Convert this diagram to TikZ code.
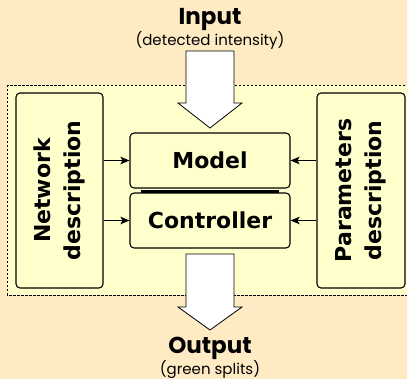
\documentclass[tikz,border=0pt]{standalone}
\usepackage{fontspec}
\setmainfont{DejaVu Sans}
\newfontfamily\titlefont{Poppins}
\usetikzlibrary{arrows.meta}

\begin{document}
\begin{tikzpicture}[x=1pt,y=-1pt]
    % Define colors
    \definecolor{page}{RGB}{255,235,195}
    \definecolor{panel}{RGB}{255,255,204}

    % Define styles
    \tikzstyle{block} = [rectangle, draw, line width=1.1pt, rounded corners=4pt, fill=panel, inner sep=0pt, align=center, font=\fontsize{22}{30}\selectfont\bfseries]
    \tikzstyle{conn} = [-{Stealth[length=9pt,width=7.5pt,inset=2pt]}, line width=1pt]
    \tikzstyle{bigarrow} = [draw, fill=white, line width=0.8pt, line join=miter]

    % Background and dashed frame
    \fill[page] (0,0) rectangle (407,379);
    \useasboundingbox (0,0) rectangle (407,379);
    \draw[fill=panel, dashed, dash pattern=on 2.5pt off 1.5pt, line width=0.7pt] (7,85) rectangle (412,295);

    % Side descriptions (rotated, so their south side faces right)
    \node[block, rotate=90, minimum width=195, minimum height=87] (netdesc) at (59.5,190.5) {Network\\description};
    \node[block, rotate=90, minimum width=195, minimum height=88] (paramdesc) at (361,190.5) {Parameters\\description};

    % Core blocks
    \node[block, minimum width=160, minimum height=55] (model) at (210,160.5) {Model};
    \node[block, minimum width=160, minimum height=55] (ctrl) at (210,220.5) {Controller};
    \fill ([xshift=12pt,yshift=-1pt]model.south west) rectangle ([xshift=-12pt,yshift=-4.4pt]model.south east);

    % Inputs from the descriptions
    \draw[conn] (netdesc.south |- model.west) -- (model.west);
    \draw[conn] (netdesc.south |- ctrl.west) -- (ctrl.west);
    \draw[conn] (paramdesc.north |- model.east) -- (model.east);
    \draw[conn] (paramdesc.north |- ctrl.east) -- (ctrl.east);

    % Input and output arrows
    \path[bigarrow] (186,51) -- (234,51) -- (234,103) -- (242,103) -- (210,128) -- (178,103) -- (186,103) -- cycle;
    \path[bigarrow] (186,254) -- (234,254) -- (234,307) -- (242,307) -- (210,330) -- (178,307) -- (186,307) -- cycle;

    % Labels
    \node[anchor=base, font=\titlefont\bfseries\fontsize{23}{23}\selectfont] (intitle) at (210,25) {Input};
    \node[anchor=base, font=\titlefont\fontsize{15}{15}\selectfont] (insub) at (210,46) {(detected intensity)};
    \node[anchor=base, font=\titlefont\bfseries\fontsize{23}{23}\selectfont] (outtitle) at (210,353) {Output};
    \node[anchor=base, font=\titlefont\fontsize{15}{15}\selectfont] (outsub) at (210,374) {(green splits)};
\end{tikzpicture}
\end{document}
